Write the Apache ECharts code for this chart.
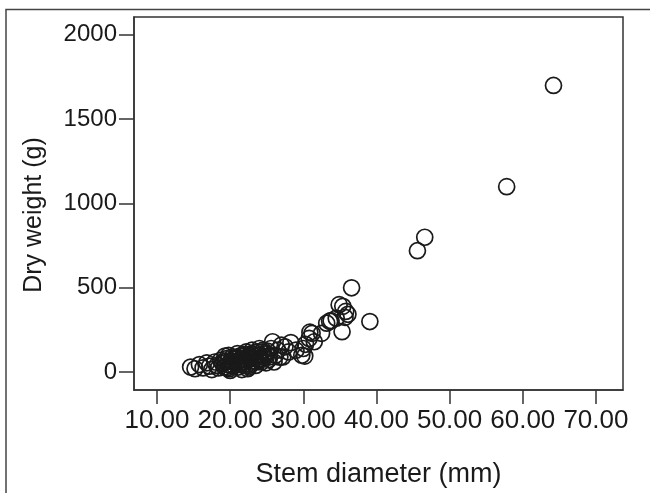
<!DOCTYPE html>
<html>
<head>
<meta charset="utf-8">
<script src="https://cdn.jsdelivr.net/npm/echarts@6/dist/echarts.min.js"></script>
<style>
html,body{margin:0;padding:0;background:#fff;}
#chart{width:650px;height:493px;}
</style>
</head>
<body>
<div id="chart"></div>
<script>
// Stem diameter (mm)
const stemDiameter = [
  14.6, 15.2, 15.8, 16.3, 16.8, 17.2, 17.5, 17.9, 18.2, 18.4,
  18.7, 19.0, 19.2, 19.3, 19.5, 19.7, 19.9, 20.0, 20.1, 20.3,
  20.5, 20.7, 20.9, 21.0, 21.1, 21.3, 21.5, 21.6, 21.7, 21.9,
  22.1, 22.3, 22.4, 22.5, 22.7, 22.9, 23.0, 23.1, 23.3, 23.5,
  23.7, 23.9, 24.0, 24.1, 24.3, 24.5, 24.8, 25.0, 25.3, 25.6,
  25.8, 26.0, 26.2, 26.5, 27.0, 27.2, 27.5, 28.0, 28.3, 29.0,
  29.8, 30.0, 30.3, 30.8, 31.2, 31.5, 32.5, 33.2, 33.8, 34.5,
  34.9, 35.3, 35.7, 35.8, 36.6, 39.1, 45.6, 46.6, 57.8, 64.2,
  18.9, 19.4, 19.8, 20.2, 20.6, 21.2, 21.4, 21.8, 22.0, 22.2,
  22.6, 22.8, 23.2, 23.4, 23.6, 23.8, 24.2, 24.4, 24.6, 24.9,
  25.1, 25.4, 20.4, 21.0, 22.0, 23.0, 24.0, 19.6, 20.8, 22.5,
  35.4, 36.1, 33.6, 30.9, 30.2, 26.8
];
// Dry weight (g)
const dryWeight = [
  30, 20, 45, 25, 55, 35, 15, 60, 40, 25,
  70, 50, 30, 95, 80, 45, 20, 10, 65, 90,
  40, 75, 55, 110, 30, 95, 60, 15, 80, 45,
  100, 70, 20, 50, 85, 110, 130, 65, 95, 40,
  120, 80, 140, 100, 60, 130, 90, 110, 75, 140,
  180, 60, 100, 130, 160, 90, 150, 120, 175, 130,
  100, 140, 165, 200, 230, 180, 230, 290, 305, 320,
  400, 240, 325, 360, 500, 300, 720, 800, 1100, 1700,
  55, 65, 100, 35, 85, 70, 45, 105, 60, 120,
  30, 95, 80, 115, 60, 100, 75, 120, 95, 55,
  125, 90, 60, 85, 75, 105, 70, 25, 50, 40,
  390, 343, 302, 237, 95, 89
];
const xTicks = [10, 20, 30, 40, 50, 60, 70];
const yTicks = [0, 500, 1000, 1500, 2000];
const xTitle = 'Stem diameter (mm)';
const yTitle = 'Dry weight (g)';

const points = stemDiameter.map((x, i) => [x, dryWeight[i]]);

const chart = echarts.init(document.getElementById('chart'), null, {renderer: 'canvas'});
const font = 'Liberation Sans, Arial, sans-serif';
chart.setOption({
  animation: false,
  backgroundColor: '#fff',
  grid: {
    left: 134, top: 17, right: 27, bottom: 102,
    show: true, borderColor: '#333', borderWidth: 1.5, backgroundColor: 'transparent'
  },
  xAxis: {
    type: 'value',
    min: 6.86, max: 73.7,
    name: xTitle,
    nameLocation: 'middle',
    nameGap: 71,
    nameTextStyle: {fontFamily: font, fontSize: 27, color: '#1a1a1a'},
    axisLine: {show: true, onZero: false, lineStyle: {color: '#333', width: 1.5}},
    axisTick: {show: true, length: 14, customValues: xTicks, lineStyle: {color: '#333', width: 1.5}},
    axisLabel: {customValues: xTicks, fontFamily: font, fontSize: 26, color: '#1a1a1a', margin: 18,
      formatter: v => Number(v).toFixed(2)},
    splitLine: {show: false}
  },
  yAxis: {
    type: 'value',
    min: -106, max: 2106,
    axisLine: {show: true, onZero: false, lineStyle: {color: '#333', width: 1.5}},
    axisTick: {show: true, length: 15, customValues: yTicks, lineStyle: {color: '#333', width: 1.5}},
    axisLabel: {customValues: yTicks, fontFamily: font, fontSize: 24, color: '#1a1a1a', margin: 17,
      formatter: v => String(v)},
    splitLine: {show: false}
  },
  graphic: [
    {type: 'polyline', silent: true, shape: {points: [[6, 493], [6, 9.5], [650, 9.5]]},
      style: {stroke: '#444', lineWidth: 1.5, fill: null}},
    {type: 'text', silent: true, rotation: Math.PI / 2, x: 34, y: 215,
      style: {text: yTitle, fontFamily: font, fontSize: 25, fill: '#1a1a1a', align: 'center', verticalAlign: 'middle'}}
  ],
  series: [{
    type: 'scatter',
    data: points,
    symbol: 'circle',
    symbolSize: 16,
    itemStyle: {color: 'rgba(0,0,0,0)', borderColor: '#1a1a1a', borderWidth: 1.7, opacity: 1}
  }]
});
</script>
</body>
</html>
